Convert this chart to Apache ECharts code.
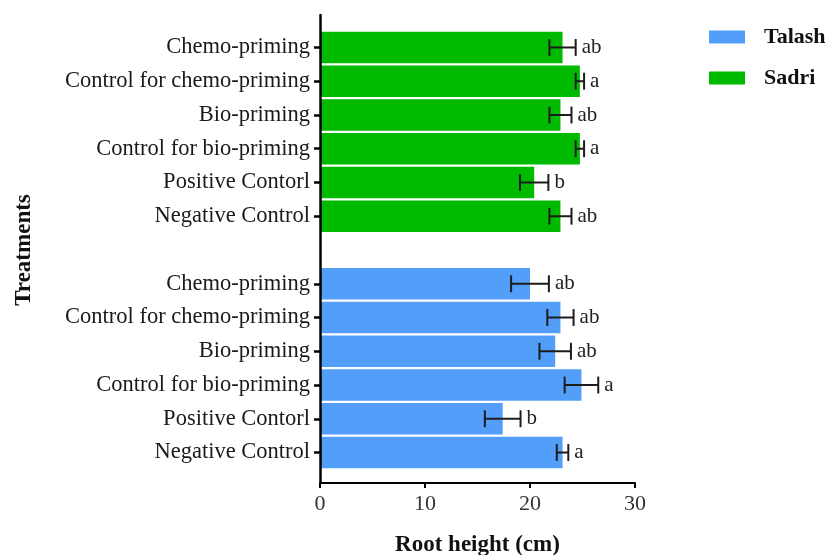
<!DOCTYPE html>
<html>
<head>
<meta charset="utf-8">
<script src="https://cdn.jsdelivr.net/npm/echarts@6/dist/echarts.min.js"></script>
<style>
  html, body { margin: 0; padding: 0; background: #fff; }
  #chart { width: 829px; height: 555px; }
</style>
</head>
<body>
<div id="chart"></div>
<script>
// Treatments, listed from top to bottom within each cultivar group
const treatments = [
  'Chemo-priming',
  'Control for chemo-priming',
  'Bio-priming',
  'Control for bio-priming',
  'Positive Contorl',
  'Negative Control'
];
const cultivars = ['Talash', 'Sadri'];

// Root height (cm): means, standard errors and significance letters
const sadriMean = [23.1, 24.75, 22.9, 24.75, 20.4, 22.9];
const sadriErr = [1.25, 0.4, 1.05, 0.4, 1.35, 1.05];
const sadriLetters = ['ab', 'a', 'ab', 'a', 'b', 'ab'];

const talashMean = [20.0, 22.9, 22.4, 24.9, 17.4, 23.1];
const talashErr = [1.8, 1.25, 1.5, 1.6, 1.7, 0.55];
const talashLetters = ['ab', 'ab', 'ab', 'a', 'b', 'a'];

const xTicks = [0, 10, 20, 30];

const colors = { Talash: '#529EF9', Sadri: '#00BA00' };
const serif = '"Liberation Serif", "Times New Roman", serif';

// Category slots: Sadri group on top, one empty slot, Talash group below
const n = treatments.length;
const slotLabels = [...treatments, '', ...treatments];
const slotKeys = slotLabels.map((t, i) => i + ':' + t);

const sadriData = slotKeys.map((_, i) => (i < n ? sadriMean[i] : '-'));
const talashData = slotKeys.map((_, i) => (i > n ? talashMean[i - n - 1] : '-'));

const errRows = [];
sadriMean.forEach((m, i) => errRows.push([i, m - sadriErr[i], m + sadriErr[i], sadriLetters[i]]));
talashMean.forEach((m, i) => errRows.push([i + n + 1, m - talashErr[i], m + talashErr[i], talashLetters[i]]));

// Error bar with end caps, followed by the significance letter
function renderError(params, api) {
  const idx = api.value(0);
  const lo = api.coord([api.value(1), idx]);
  const hi = api.coord([api.value(2), idx]);
  const cap = api.size([0, 1])[1] * 0.25;
  const style = { stroke: '#1c1c1c', lineWidth: 2 };
  return {
    type: 'group',
    children: [
      { type: 'line', shape: { x1: lo[0], y1: lo[1], x2: hi[0], y2: hi[1] }, style },
      { type: 'line', shape: { x1: lo[0], y1: lo[1] - cap, x2: lo[0], y2: lo[1] + cap }, style },
      { type: 'line', shape: { x1: hi[0], y1: hi[1] - cap, x2: hi[0], y2: hi[1] + cap }, style },
      {
        type: 'text',
        x: hi[0] + 6,
        y: hi[1],
        style: {
          text: errRows[params.dataIndex][3],
          font: '21px ' + serif,
          fill: '#222',
          verticalAlign: 'middle',
          align: 'left'
        }
      }
    ]
  };
}

const chart = echarts.init(document.getElementById('chart'));
chart.setOption({
  animation: false,
  backgroundColor: '#fff',
  grid: [
    { left: 320, right: 194, top: 30.6, bottom: 85.6, outerBoundsMode: 'none', containLabel: false },
    { left: 320, right: 194, top: 15, bottom: 72, outerBoundsMode: 'none', containLabel: false }
  ],
  legend: {
    data: cultivars,
    orient: 'vertical',
    left: 704,
    top: 21,
    itemWidth: 36,
    itemHeight: 13,
    itemGap: 19,
    icon: 'rect',
    textStyle: { fontFamily: serif, fontSize: 22, fontWeight: 'bold', color: '#111', padding: [0, 0, 0, 14] }
  },
  xAxis: [
    { gridIndex: 0, type: 'value', min: 0, max: 30, show: false },
    {
      gridIndex: 1, type: 'value', min: 0, max: 30, interval: 10, z: 10,
      axisLine: { show: true, lineStyle: { color: '#000', width: 2 } },
      axisTick: { show: true, length: 5, lineStyle: { color: '#000', width: 2 } },
      axisLabel: {
        margin: 10,
        fontFamily: serif, fontSize: 22, color: '#333',
        customValues: xTicks
      },
      splitLine: { show: false },
      name: 'Root height (cm)',
      nameLocation: 'middle',
      nameGap: 51,
      nameTextStyle: { fontFamily: serif, fontSize: 23, fontWeight: 'bold', color: '#111' }
    }
  ],
  yAxis: [
    {
      gridIndex: 0, type: 'category', inverse: true, data: slotKeys, z: 10,
      axisLine: { show: false },
      axisTick: {
        show: true, alignWithLabel: true, length: 6,
        lineStyle: { color: '#000', width: 2.5 },
        interval: (i) => slotLabels[i] !== ''
      },
      axisLabel: {
        margin: 10, interval: 0,
        fontFamily: serif, fontSize: 22.5, color: '#1a1a1a',
        formatter: (v) => v.slice(v.indexOf(':') + 1)
      },
      name: 'Treatments',
      nameLocation: 'middle',
      nameRotate: 90,
      nameGap: 284,
      nameTextStyle: { fontFamily: serif, fontSize: 23, fontWeight: 'bold', color: '#111' }
    },
    {
      gridIndex: 1, type: 'value', min: 0, max: 1, z: 10,
      axisLine: { show: true, lineStyle: { color: '#000', width: 2.5 } },
      axisTick: { show: false },
      axisLabel: { show: false },
      splitLine: { show: false }
    }
  ],
  series: [
    {
      name: 'Talash', type: 'bar', xAxisIndex: 0, yAxisIndex: 0,
      data: talashData, barWidth: '93%', barGap: '-100%',
      itemStyle: { color: colors.Talash }
    },
    {
      name: 'Sadri', type: 'bar', xAxisIndex: 0, yAxisIndex: 0,
      data: sadriData, barWidth: '93%', barGap: '-100%',
      itemStyle: { color: colors.Sadri }
    },
    {
      type: 'custom', xAxisIndex: 0, yAxisIndex: 0, z: 5,
      renderItem: renderError,
      data: errRows.map((r) => [r[0], r[1], r[2]]),
      encode: { x: [1, 2], y: 0 }
    }
  ]
});
</script>
</body>
</html>
